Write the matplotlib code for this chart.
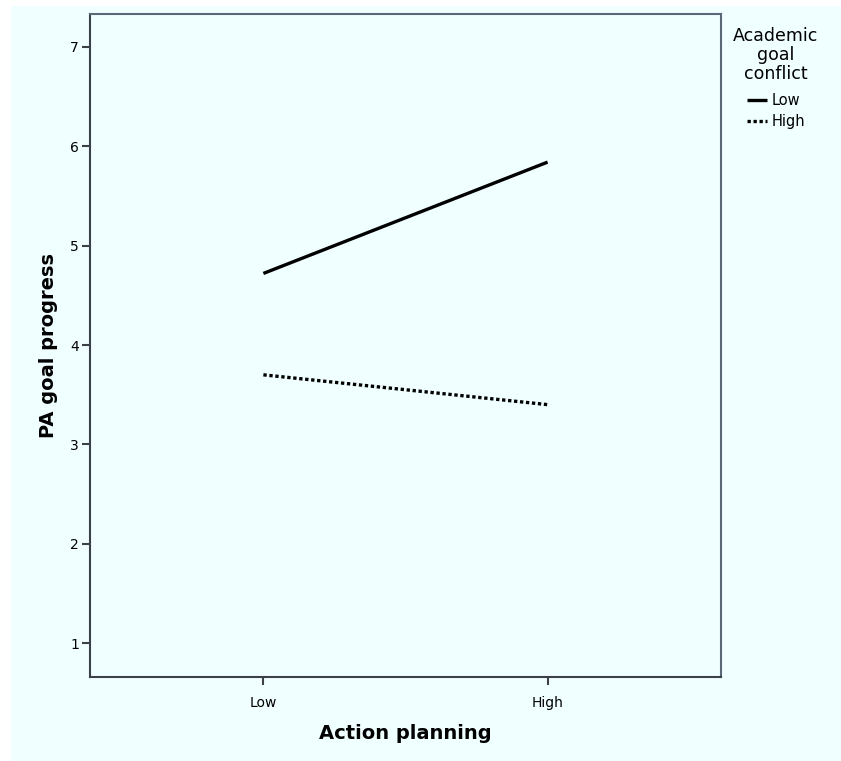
import numpy as np
import matplotlib
matplotlib.use('Agg')
import matplotlib.pyplot as plt
from matplotlib.patches import Rectangle

# values
planning = ['Low', 'High']
conflict_low = [4.72, 5.84]
conflict_high = [3.70, 3.40]
yticks = [1, 2, 3, 4, 5, 6, 7]

bg = '#F0FFFF'
spine = '#3c4048'

fig = plt.figure(figsize=(8.41, 7.61), dpi=100, facecolor='white')
# tinted background panel (white margin at top and left)
fig.patches.append(Rectangle((11 / 841, 0), 1, 1 - 6 / 761, transform=fig.transFigure,
                             facecolor=bg, edgecolor='none', zorder=-10))

ax = fig.add_axes([90 / 841, 1 - 677 / 761, 631 / 841, 663 / 761])
ax.set_facecolor(bg)

x = np.arange(len(planning))
ax.plot(x, conflict_low, color='black', lw=2.4, solid_capstyle='butt', label='Low')
ax.plot(x, conflict_high, color='black', lw=2.4, dashes=(1.0, 0.8), dash_capstyle='butt', label='High')

ax.set_xlim(-0.61, 1.61)
ax.set_ylim(0.66, 7.33)
ax.set_xticks(x)
ax.set_xticklabels(planning)
ax.set_yticks(yticks)
ax.tick_params(axis='both', length=6, width=1.5, color=spine, labelsize=10, pad=2)
ax.tick_params(axis='x', labelsize=10, pad=8)
for s in ax.spines.values():
    s.set_color(spine)
    s.set_linewidth(1.5)
ax.spines['top'].set_color('#5a6878')
ax.spines['right'].set_color('#5a6878')

ax.set_xlabel('Action planning', fontsize=14, fontweight='bold', labelpad=10)
ax.set_ylabel('PA goal progress', fontsize=14, fontweight='bold', labelpad=9)

leg = fig.legend(title='Academic\ngoal\nconflict', loc='upper left',
                 bbox_to_anchor=(726 / 841, 1 - 20 / 761), frameon=False,
                 fontsize=10.5, title_fontsize=12.5, handlelength=1.4,
                 handletextpad=0.3, labelspacing=0.4, borderpad=0)
leg.get_title().set_multialignment('center')
leg.get_title().set_linespacing(1.05)
leg._legend_box.sep = 7.5  # a bit more room under the title

fig.savefig('out.png', dpi=100, facecolor='white')
